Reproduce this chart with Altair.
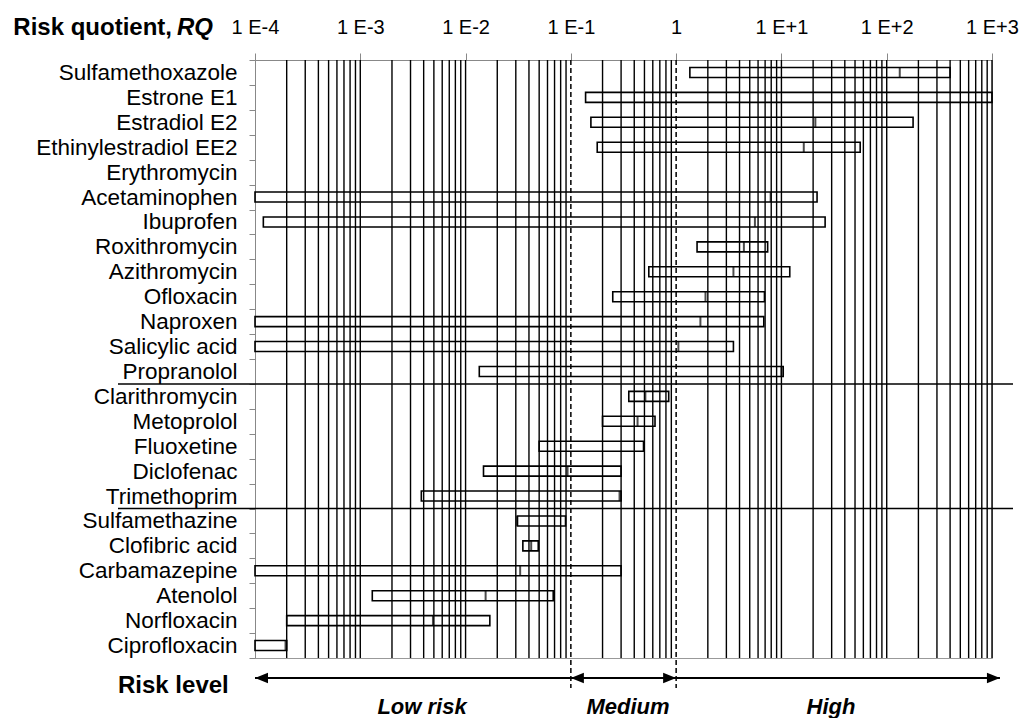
import altair as alt
import pandas as pd

# ---------------- data ----------------
cats = ["Sulfamethoxazole", "Estrone E1", "Estradiol E2", "Ethinylestradiol EE2",
        "Erythromycin", "Acetaminophen", "Ibuprofen", "Roxithromycin", "Azithromycin",
        "Ofloxacin", "Naproxen", "Salicylic acid", "Propranolol", "Clarithromycin",
        "Metoprolol", "Fluoxetine", "Diclofenac", "Trimethoprim", "Sulfamethazine",
        "Clofibric acid", "Carbamazepine", "Atenolol", "Norfloxacin", "Ciprofloxacin"]
rq_min = [1.35, 0.138, 0.155, 0.178, None, 1e-4, 1.2e-4, 1.58, 0.55, 0.25, 1e-4, 1e-4,
          0.0135, 0.355, 0.2, 0.05, 0.0148, 0.0038, 0.031, 0.035, 1e-4, 0.0013, 2.0e-4, 1e-4]
rq_max = [400, 1000, 178, 56, None, 21.8, 26, 7.4, 12, 6.9, 6.8, 3.5,
          10.4, 0.85, 0.63, 0.49, 0.30, 0.30, 0.089, 0.049, 0.30, 0.068, 0.017, 2.0e-4]
rq_med = [133, None, 21, 16.3, None, 7.9, 5.6, 4.4, 3.5, 1.9, 1.7, 1.05,
          10, 0.51, 0.43, None, 0.093, 0.29, 0.031, 0.042, 0.033, 0.0155, 0.0049, 1.95e-4]
separators_after = ["Propranolol", "Trimethoprim"]
decades = [1e-4, 1e-3, 1e-2, 1e-1, 1, 10, 100, 1000]
grid_vals = [m * 10.0 ** k for k in range(-4, 3) for m in range(2, 10)] + [1e-3, 1e-2, 10, 100, 1000]
risk_bounds = [0.1, 1]
arrow_left_tips = [1e-4, 0.1]
arrow_right_tips = [1, 1190]

df = pd.DataFrame({"cat": cats, "lo": rq_min, "hi": rq_max, "med": rq_med})
bars_df = df.dropna(subset=["lo", "hi"])
med_df = df.dropna(subset=["med"])

W, H = 737, 598
FONT = "Liberation Sans"

xsc = alt.Scale(type="log", domain=[1e-4, 1e3], nice=False)
ysc = alt.Scale(domain=cats, paddingInner=0, paddingOuter=0)

x_axis = alt.Axis(orient="top", values=decades,
                  labelExpr="datum.value == 1 ? '1' : '1 E' + (datum.value > 1 ? '+' : '') + round(log(datum.value) / log(10))",
                  title="", grid=False, ticks=True, tickSize=7, tickColor="#888",
                  domain=True, domainColor="#888", labels=True,
                  labelFontSize=20, labelColor="black", labelFont=FONT, labelPadding=16,
                  labelFlush=False, labelOverlap=False)
y_axis = alt.Axis(title="", labelFontSize=22.5, labelColor="black", labelFont=FONT,
                  ticks=True, tickSize=6, tickBand="extent", tickColor="#888",
                  domain=True, domainColor="#888", labels=True,
                  labelPadding=12, labelLimit=400, grid=False)


def X(field):
    return alt.X(field, scale=xsc, axis=x_axis, title="")


def Y(field, **kw):
    return alt.Y(field, scale=ysc, axis=y_axis, title="", **kw)


bars = alt.Chart(bars_df).mark_bar(filled=False, stroke="black", strokeWidth=1.6,
                                   height=alt.RelativeBandSize(band=0.4)).encode(
    x=X("lo:Q"), x2="hi:Q", y=Y("cat:N"),
)

grid = alt.Chart(pd.DataFrame({"v": grid_vals})).mark_rule(color="black", strokeWidth=1.4).encode(
    x=X("v:Q")
)

dashed = alt.Chart(pd.DataFrame({"v": risk_bounds})).mark_rule(
    color="black", strokeWidth=1.5, strokeDash=[5, 3]).encode(
    x=X("v:Q"), y=alt.value(0), y2=alt.value(628)
)

meds = alt.Chart(med_df).mark_tick(orient="vertical", size=10, thickness=2, color="black").encode(
    x=X("med:Q"), y=Y("cat:N"),
)

seps = alt.Chart(pd.DataFrame({"cat": separators_after})).mark_rule(color="black", strokeWidth=1.5).encode(
    y=Y("cat:N", bandPosition=1),
    x=alt.value(-137), x2=alt.value(758),
)

arrow_line = alt.Chart(pd.DataFrame({"a": [arrow_left_tips[0]], "b": [arrow_right_tips[-1]]})).mark_rule(
    color="black", strokeWidth=2.2).encode(
    x=X("a:Q"), x2="b:Q", y=alt.value(618)
)
heads_left = alt.Chart(pd.DataFrame({"v": arrow_left_tips})).mark_point(
    shape="M0,0 L2,-0.8 L2,0.8 Z", filled=True, size=169, color="black", opacity=1).encode(
    x=X("v:Q"), y=alt.value(618)
)
heads_right = alt.Chart(pd.DataFrame({"v": arrow_right_tips})).mark_point(
    shape="M0,0 L-2,-0.8 L-2,0.8 Z", filled=True, size=169, color="black", opacity=1).encode(
    x=X("v:Q"), y=alt.value(618)
)


def txt(s, x, y, size, weight="normal", style="normal", align="left"):
    return alt.Chart(pd.DataFrame({"t": [s]})).mark_text(
        text=s, font=FONT, fontSize=size, fontWeight=weight, fontStyle=style,
        align=align, baseline="alphabetic", color="black").encode(
        x=alt.value(x), y=alt.value(y))


texts = [
    txt("Risk quotient,", -83, -25, 24, "bold", align="right"),
    txt("RQ", -42, -25, 24, "bold", "italic", align="right"),
    txt("Risk level", -137, 633, 24, "bold"),
    txt("Low risk", 167, 654, 22, "bold", "italic", align="center"),
    txt("Medium", 373, 654, 22, "bold", "italic", align="center"),
    txt("High", 576, 654, 22, "bold", "italic", align="center"),
]

chart = alt.layer(bars, grid, dashed, meds, seps, arrow_line, heads_left, heads_right, *texts).properties(
    width=W, height=H,
    autosize=alt.AutoSizeParams(type="none"),
    padding={"left": 255, "top": 60, "right": 33, "bottom": 60},
).configure_view(stroke="#999", strokeWidth=1)

chart.save("out.html", embed_options={"renderer": "svg", "actions": False})
